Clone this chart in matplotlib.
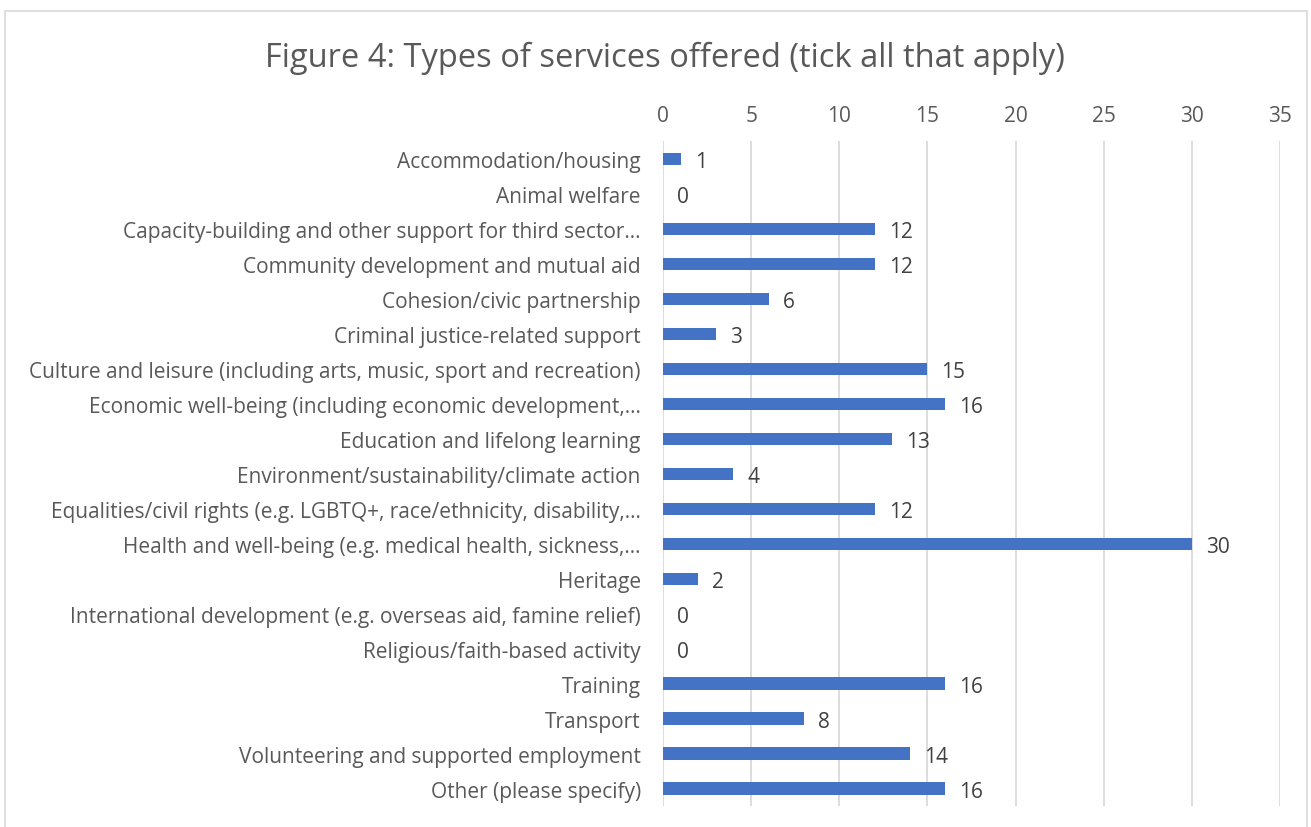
import matplotlib
matplotlib.use("Agg")
import matplotlib.pyplot as plt
from matplotlib.patches import Rectangle

categorias = [
    "Accommodation/housing",
    "Animal welfare",
    "Capacity-building and other support for third sector\u2026",
    "Community development and mutual aid",
    "Cohesion/civic partnership",
    "Criminal justice-related support",
    "Culture and leisure (including arts, music, sport and recreation)",
    "Economic well-being (including economic development,\u2026",
    "Education and lifelong learning",
    "Environment/sustainability/climate action",
    "Equalities/civil rights (e.g. LGBTQ+, race/ethnicity, disability,\u2026",
    "Health and well-being (e.g. medical health, sickness,\u2026",
    "Heritage",
    "International development (e.g. overseas aid, famine relief)",
    "Religious/faith-based activity",
    "Training",
    "Transport",
    "Volunteering and supported employment",
    "Other (please specify)",
]
valores = [1, 0, 12, 12, 6, 3, 15, 16, 13, 4, 12, 30, 2, 0, 0, 16, 8, 14, 16]
ticks_x = [0, 5, 10, 15, 20, 25, 30, 35]

AZUL = "#4472C4"
GRIS_TXT = "#595959"

plt.rcParams["font.family"] = ["Open Sans", "DejaVu Sans"]

fig = plt.figure(figsize=(13.11, 8.28), dpi=100)
ax = fig.add_axes([0.5057, 0.0248, 0.4707, 0.8031])

y = list(range(len(categorias)))
ax.barh(y, valores, height=0.37, color=AZUL, zorder=3)
for yi, v in zip(y, valores):
    ax.text(v + 0.8, yi + 0.06, str(v), va="center", ha="left", fontsize=15,
            color="#404040", zorder=4)

ax.set_xlim(0, 35)
ax.set_ylim(len(categorias) - 0.5, -0.5)
ax.set_yticks(y)
ax.set_yticklabels(categorias, fontsize=15, color=GRIS_TXT)
ax.set_xticks(ticks_x)
ax.xaxis.tick_top()
ax.tick_params(axis="x", labelsize=15, labelcolor=GRIS_TXT, length=0, pad=11)
ax.tick_params(axis="y", length=0, pad=16)
ax.grid(axis="x", color="#d9d9d9", linewidth=1.3, zorder=0)
for s in ax.spines.values():
    s.set_visible(False)

fig.text(0.507, 0.929, "Figure 4: Types of services offered (tick all that apply)",
         ha="center", va="center", fontsize=23.5, color=GRIS_TXT)

# marco del grafico
fig.patches.append(Rectangle((5 / 1311, -0.1), 1302 / 1311, 1.1 - 12 / 828,
                             transform=fig.transFigure, fill=False,
                             edgecolor="#d9d9d9", linewidth=1.2))

fig.savefig("out.png", dpi=100)
